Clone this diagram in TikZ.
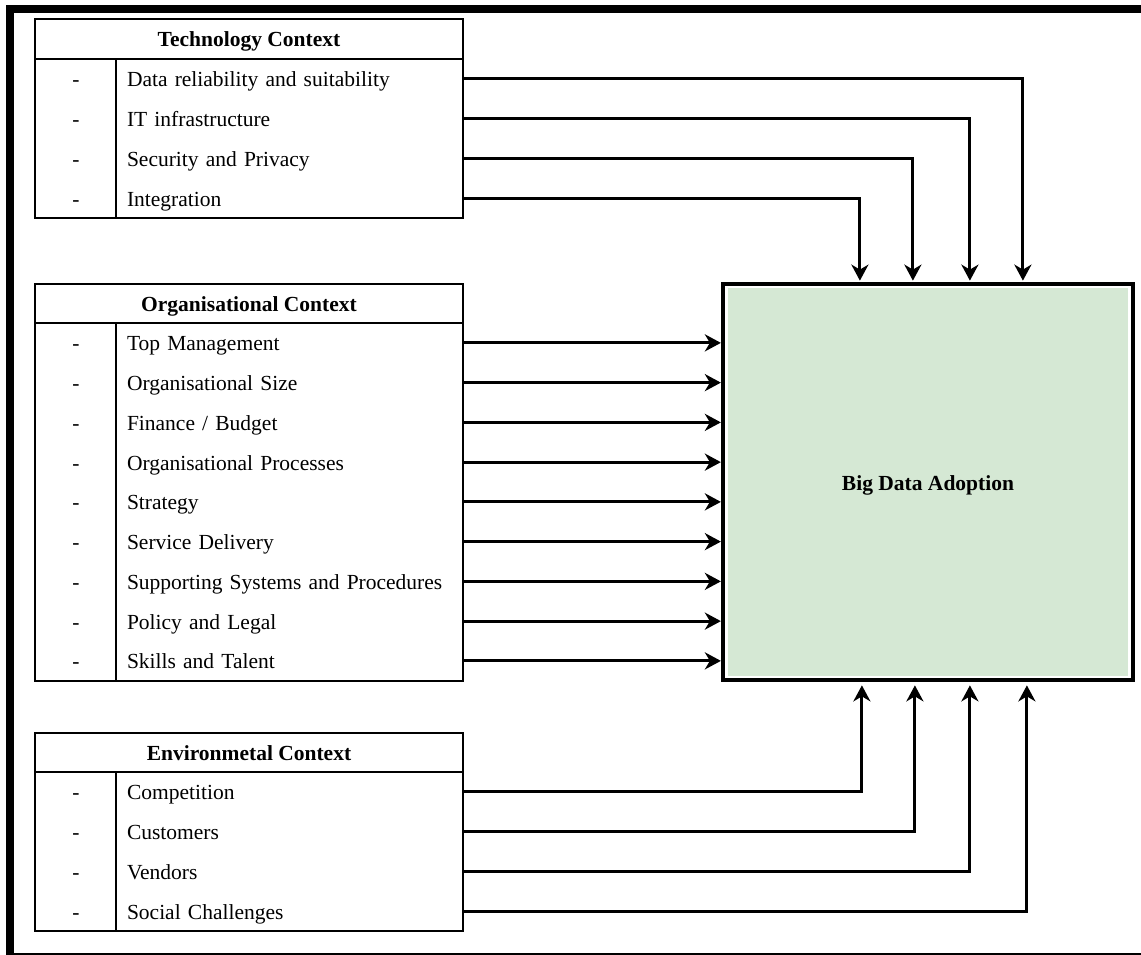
\documentclass[tikz,border=0pt]{standalone}
\usepackage{fontspec}
\setmainfont{Liberation Serif}
\usetikzlibrary{arrows.meta,calc}
\definecolor{adoptgreen}{RGB}{213,232,212}
\newcommand{\txtsize}{\fontsize{21.5}{26}\selectfont}
\tikzset{
  tbl/.style={line width=2.8pt},
  hdr/.style={font=\txtsize\bfseries, inner sep=0pt, text height=16pt, text depth=0pt},
  dashmark/.style={font=\txtsize, inner sep=0pt, text height=16pt, text depth=0pt},
  item/.style={font=\txtsize, anchor=west, minimum width=347pt, text width=325pt,
    align=left, inner xsep=11pt, inner ysep=0pt, outer sep=0pt,
    text height=16pt, text depth=0pt},
  conn/.style={line width=3pt, -{Stealth[length=16pt,width=17pt,inset=5pt]}},
  adoptbox/.style={draw, line width=4.2pt, fill=adoptgreen, inner sep=0pt,
    minimum width=410pt, minimum height=396.5pt,
    font=\txtsize\bfseries, text height=16pt, text depth=0pt},
}
\begin{document}
\begin{tikzpicture}[x=1pt, y=-1pt]
\useasboundingbox (0,0) rectangle (1141,955);

% outer frame (top, left and bottom edges)
\fill (6,5) rectangle (1141,12.7);
\fill (6,5) rectangle (14,955);
\fill (6,952.7) rectangle (1141,955);

% ---- Technology context ----
\draw[tbl] (35,19) rectangle (463,218);
\draw[tbl] (35,59) -- (463,59) (116,59) -- (116,218);
\node[hdr] (techhead) at (249,39) {Technology Context};
\foreach \t [count=\i] in {Data reliability and suitability, IT infrastructure,
    Security and Privacy, Integration} {
  \pgfmathsetmacro{\yy}{59+39.75*\i-19.875}
  \node[dashmark] (techdash\i) at (76,\yy) {-};
  \node[item] (tech\i) at (116,\yy) {\t};
}

% ---- Organisational context ----
\draw[tbl] (35,284) rectangle (463,681);
\draw[tbl] (35,323) -- (463,323) (116,323) -- (116,681);
\node[hdr] (orghead) at (249,303.5) {Organisational Context};
\foreach \t [count=\i] in {Top Management, Organisational Size, Finance / Budget,
    Organisational Processes, Strategy, Service Delivery,
    Supporting Systems and Procedures, Policy and Legal, Skills and Talent} {
  \pgfmathsetmacro{\yy}{323+39.75*\i-19.875}
  \node[dashmark] (orgdash\i) at (76,\yy) {-};
  \node[item] (org\i) at (116,\yy) {\t};
}

% ---- Environmental context ----
\draw[tbl] (35,733) rectangle (463,931);
\draw[tbl] (35,772) -- (463,772) (116,772) -- (116,931);
\node[hdr] (envhead) at (249,752.5) {Environmetal Context};
\foreach \t [count=\i] in {Competition, Customers, Vendors, Social Challenges} {
  \pgfmathsetmacro{\yy}{772+39.75*\i-19.875}
  \node[dashmark] (envdash\i) at (76,\yy) {-};
  \node[item] (env\i) at (116,\yy) {\t};
}

% ---- Central box ----
\node[adoptbox] (box) at (928,482) {Big Data Adoption};
\draw[white, line width=2.5pt] ($(box.north west)+(5.5,5.5)$) rectangle ($(box.south east)+(-5.5,-5.5)$);

% ---- Connectors ----
\draw[conn] (tech1.east) -| ($(box.north west)+(302,-1)$);
\draw[conn] (tech2.east) -| ($(box.north west)+(249,-1)$);
\draw[conn] (tech3.east) -| ($(box.north west)+(192,-1)$);
\draw[conn] (tech4.east) -| ($(box.north west)+(139,-1)$);

\foreach \i in {1,...,9} {
  \draw[conn] (org\i.east) -- (org\i.east -| box.west);
}

\draw[conn] (env1.east) -| ($(box.south west)+(141,3)$);
\draw[conn] (env2.east) -| ($(box.south west)+(194,3)$);
\draw[conn] (env3.east) -| ($(box.south west)+(249,3)$);
\draw[conn] (env4.east) -| ($(box.south west)+(306,3)$);
\end{tikzpicture}
\end{document}
